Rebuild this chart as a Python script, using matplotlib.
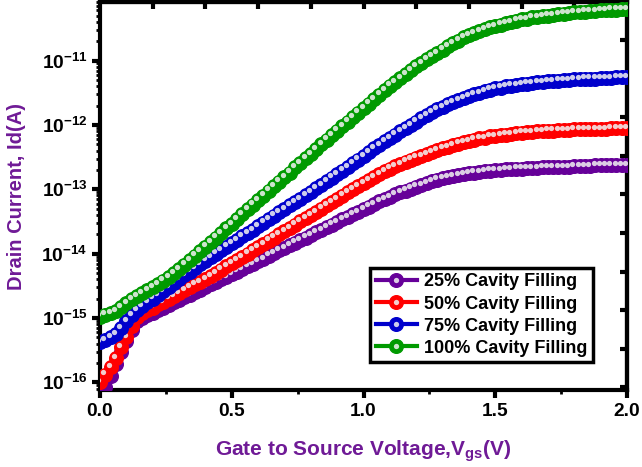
import numpy as np
import matplotlib
matplotlib.use("Agg")
from matplotlib import pyplot as plt
import matplotlib.transforms as mtransforms
from matplotlib.ticker import FixedLocator, FuncFormatter, NullFormatter, LogLocator
from matplotlib.legend_handler import HandlerTuple

plt.rcParams['font.family'] = ['Liberation Sans', 'DejaVu Sans']
plt.rcParams['font.weight'] = 'bold'
plt.rcParams['mathtext.fontset'] = 'custom'
plt.rcParams['mathtext.rm'] = 'Liberation Sans:bold'
plt.rcParams['mathtext.bf'] = 'Liberation Sans:bold'
plt.rcParams['mathtext.it'] = 'Liberation Sans:bold'

# gate voltage, 0 to 2 V in 0.02 V steps
vgs = np.round(np.arange(101) * 0.02, 2)

# log10 of drain current
log_id_25 = [
    -16.35, -16.08, -15.90, -15.72, -15.53, -15.36, -15.18, -15.04, -15.00, -14.96,
    -14.92, -14.88, -14.84, -14.80, -14.76, -14.72, -14.68, -14.64, -14.60, -14.56,
    -14.52, -14.48, -14.44, -14.40, -14.36, -14.32, -14.28, -14.24, -14.20, -14.16,
    -14.12, -14.08, -14.03, -13.99, -13.95, -13.91, -13.87, -13.83, -13.79, -13.75,
    -13.71, -13.67, -13.63, -13.59, -13.55, -13.51, -13.47, -13.43, -13.39, -13.35,
    -13.31, -13.27, -13.23, -13.19, -13.15, -13.12, -13.08, -13.05, -13.02, -12.99,
    -12.96, -12.93, -12.90, -12.87, -12.85, -12.83, -12.81, -12.79, -12.78, -12.76,
    -12.75, -12.74, -12.73, -12.72, -12.71, -12.70, -12.70, -12.69, -12.69, -12.68,
    -12.68, -12.67, -12.67, -12.67, -12.66, -12.66, -12.66, -12.65, -12.65, -12.65,
    -12.64, -12.64, -12.64, -12.64, -12.63, -12.63, -12.63, -12.63, -12.62, -12.62,
    -12.62]
log_id_50 = [
    -16.00, -15.88, -15.76, -15.62, -15.45, -15.30, -15.12, -14.98, -14.93, -14.88,
    -14.84, -14.79, -14.75, -14.70, -14.66, -14.61, -14.57, -14.52, -14.48, -14.44,
    -14.40, -14.35, -14.30, -14.25, -14.20, -14.15, -14.10, -14.05, -14.00, -13.95,
    -13.90, -13.85, -13.80, -13.75, -13.70, -13.65, -13.60, -13.55, -13.50, -13.45,
    -13.40, -13.35, -13.30, -13.25, -13.20, -13.15, -13.10, -13.05, -13.00, -12.95,
    -12.91, -12.86, -12.81, -12.77, -12.72, -12.68, -12.64, -12.61, -12.57, -12.54,
    -12.51, -12.48, -12.45, -12.42, -12.39, -12.36, -12.34, -12.31, -12.29, -12.27,
    -12.25, -12.23, -12.21, -12.20, -12.18, -12.17, -12.16, -12.15, -12.14, -12.13,
    -12.12, -12.11, -12.11, -12.10, -12.10, -12.09, -12.09, -12.08, -12.08, -12.08,
    -12.07, -12.07, -12.07, -12.06, -12.06, -12.06, -12.06, -12.05, -12.05, -12.05,
    -12.05]
log_id_75 = [
    -15.37, -15.34, -15.30, -15.25, -15.16, -15.05, -14.96, -14.88, -14.82, -14.76,
    -14.70, -14.64, -14.58, -14.52, -14.46, -14.40, -14.34, -14.28, -14.22, -14.16,
    -14.11, -14.05, -14.00, -13.95, -13.89, -13.84, -13.79, -13.73, -13.68, -13.63,
    -13.57, -13.52, -13.47, -13.41, -13.36, -13.31, -13.25, -13.20, -13.15, -13.09,
    -13.04, -12.98, -12.93, -12.87, -12.82, -12.76, -12.71, -12.65, -12.59, -12.54,
    -12.48, -12.42, -12.36, -12.31, -12.25, -12.20, -12.15, -12.10, -12.05, -12.00,
    -11.95, -11.90, -11.85, -11.80, -11.76, -11.72, -11.68, -11.64, -11.61, -11.58,
    -11.55, -11.52, -11.50, -11.47, -11.45, -11.43, -11.42, -11.40, -11.39, -11.38,
    -11.37, -11.36, -11.35, -11.34, -11.33, -11.32, -11.32, -11.31, -11.30, -11.30,
    -11.29, -11.29, -11.28, -11.28, -11.28, -11.27, -11.27, -11.27, -11.26, -11.26,
    -11.26]
log_id_100 = [
    -14.98, -14.95, -14.92, -14.89, -14.83, -14.77, -14.71, -14.66, -14.62, -14.57,
    -14.52, -14.47, -14.42, -14.36, -14.30, -14.24, -14.17, -14.10, -14.03, -13.96,
    -13.89, -13.82, -13.75, -13.68, -13.61, -13.54, -13.46, -13.39, -13.31, -13.24,
    -13.17, -13.10, -13.02, -12.95, -12.88, -12.81, -12.74, -12.66, -12.59, -12.52,
    -12.45, -12.38, -12.30, -12.23, -12.16, -12.09, -12.02, -11.95, -11.88, -11.81,
    -11.74, -11.67, -11.60, -11.53, -11.46, -11.39, -11.33, -11.27, -11.21, -11.15,
    -11.09, -11.04, -10.98, -10.93, -10.88, -10.83, -10.78, -10.73, -10.69, -10.64,
    -10.60, -10.57, -10.54, -10.51, -10.48, -10.46, -10.44, -10.42, -10.40, -10.38,
    -10.36, -10.35, -10.33, -10.32, -10.31, -10.30, -10.29, -10.28, -10.27, -10.26,
    -10.25, -10.25, -10.24, -10.23, -10.23, -10.22, -10.22, -10.21, -10.21, -10.20,
    -10.20]

labels = ['25% Cavity Filling', '50% Cavity Filling',
          '75% Cavity Filling', '100% Cavity Filling']
colors = ['#660099', '#ff0000', '#0000cc', '#009a00']
series = [log_id_25, log_id_50, log_id_75, log_id_100]

label_color = '#6f1a96'

fig = plt.figure(figsize=(6.42, 4.67), dpi=100)
ax = fig.add_axes([100 / 642, 77 / 467, 527 / 642, 388 / 467])

# small white spot on each ball, shifted up-left a little
shine = mtransforms.ScaledTranslation(-1.3 / 72, 1.6 / 72, fig.dpi_scale_trans)

handles = []
for logs, col, lab in zip(series, colors, labels):
    cur = 10 ** np.array(logs)
    ln, = ax.plot(vgs, cur, color=col, lw=3, marker='o', ms=9.8,
                  mec=col, mfc=col, label=lab, zorder=3)
    sp, = ax.plot(vgs, cur, ls='none', marker='o', ms=3.8, mfc='#f2f2f2',
                  mec='none', alpha=0.85, zorder=3,
                  transform=ax.transData + shine)
    handles.append((ln, sp))

ax.set_yscale('log')
ax.set_xlim(0, 2.0)
ax.set_ylim(10 ** -16.12, 10 ** -10.09)

ax.set_xticks([0.0, 0.5, 1.0, 1.5, 2.0])
ax.set_xticks([0.25, 0.75, 1.25, 1.75], minor=True)
ax.xaxis.set_major_formatter(FuncFormatter(lambda v, p: '%.1f' % v))
ax.yaxis.set_major_locator(FixedLocator([10.0 ** k for k in range(-16, -10)]))
ax.yaxis.set_minor_locator(LogLocator(base=10, subs=np.arange(2, 10) * 1.0, numticks=20))
ax.yaxis.set_minor_formatter(NullFormatter())
ax.yaxis.set_major_formatter(FuncFormatter(
    lambda v, p: r'$\mathbf{10^{%d}}$' % int(round(np.log10(v)))))

ax.tick_params(axis='both', which='major', direction='out', length=6, width=3,
               labelsize=13.8, pad=3)
ax.tick_params(axis='both', which='minor', direction='out', length=3, width=2)
for lab in ax.get_xticklabels() + ax.get_yticklabels():
    lab.set_fontweight('bold')

for s in ax.spines.values():
    s.set_linewidth(3)

# ticks on the top and right edges
top = ax.secondary_xaxis('top')
top.set_xticks(np.arange(0.2, 2.0, 0.2))
top.tick_params(direction='in', length=5, width=3, labeltop=False)
top.xaxis.set_minor_locator(FixedLocator([]))
top.spines['top'].set_linewidth(3)
right = ax.secondary_yaxis('right')
right.set_yticks([10.0 ** (-10.68 - 0.6 * k) for k in range(10)])
right.yaxis.set_minor_locator(FixedLocator([]))
right.tick_params(direction='in', length=5, width=3, labelright=False)
right.spines['right'].set_linewidth(3)

ax.set_xlabel(r'Gate to Source Voltage,V$_{\mathbf{gs}}$(V)', fontsize=15,
              fontweight='bold', color=label_color, labelpad=14)
ax.set_ylabel('Drain Current, Id(A)', fontsize=14.5, fontweight='bold',
              color=label_color, labelpad=11)

leg = ax.legend(handles, labels, handler_map={tuple: HandlerTuple(ndivide=1)},
                loc='lower right', bbox_to_anchor=(0.936, 0.072),
                fancybox=False, edgecolor='black', framealpha=1,
                prop={'weight': 'bold', 'size': 13}, handlelength=2.3,
                borderpad=0.3, labelspacing=0.28, handletextpad=0.4,
                borderaxespad=0)
leg.get_frame().set_linewidth(2.5)
leg.set_zorder(5)

fig.savefig('out.png', dpi=100)
